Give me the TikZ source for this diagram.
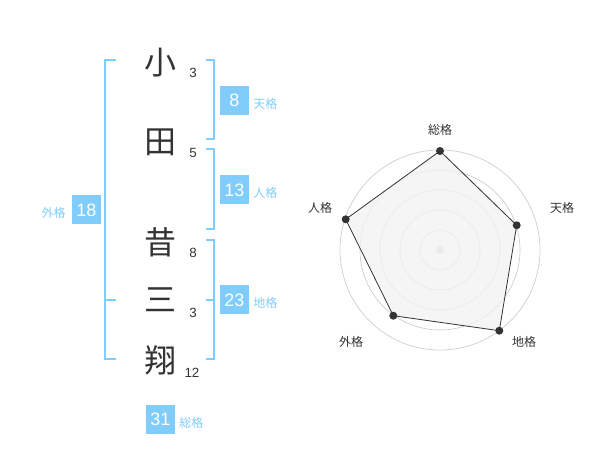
\documentclass[tikz,border=0pt]{standalone}
\usepackage{fontspec}
\setmainfont{Liberation Sans}
\newfontfamily\jp{Noto Sans CJK JP}
\definecolor{kakublue}{RGB}{128,204,250}
\definecolor{inkgray}{RGB}{51,51,51}

\begin{document}
\begin{tikzpicture}[x=0.75pt,y=-0.75pt,
  kanji/.style={font=\jp\fontsize{24}{24}\selectfont, text=inkgray, inner sep=0pt},
  strokes/.style={font=\fontsize{10}{10}\selectfont, text=inkgray, inner sep=0pt},
  kakubox/.style={fill=kakublue, text=white, minimum size=21.75pt, inner sep=0pt, font=\fontsize{13.5}{13.5}\selectfont},
  kakulabel/.style={font=\jp\fontsize{9}{9}\selectfont, text=kakublue, inner sep=0pt},
  bracket/.style={draw=kakublue, line width=1.5pt},
  ring/.style={draw=gray!40, line width=0.5pt},
  axislabel/.style={font=\jp\fontsize{9}{9}\selectfont, text=inkgray, inner sep=0pt},
  vertex/.style={circle, fill=inkgray, minimum size=6pt, inner sep=0pt}]
\useasboundingbox (0,0) rectangle (600,470);

% name
\node[kanji] (sho) at (160,63) {小};
\node[kanji] (ta) at (160,142) {田};
\node[kanji] (seki) at (160,242) {昔};
\node[kanji] (mi) at (160,300) {三};
\node[kanji] (kake) at (160,360) {翔};

\node[strokes] (n1) at (193,73) {3};
\node[strokes] (n2) at (193,153) {5};
\node[strokes] (n3) at (193,253) {8};
\node[strokes] (n4) at (193,313) {3};
\node[strokes] (n5) at (192,373) {12};

% brackets
\draw[bracket] (116,60) -- (105,60) -- (105,359) -- (116,359);
\draw[bracket] (105,300) -- (116,300);
\draw[bracket] (206,60) -- (214,60) -- (214,139) -- (206,139);
\draw[bracket] (206,149) -- (214,149) -- (214,229) -- (206,229);
\draw[bracket] (206,240) -- (214,240) -- (214,359) -- (206,359);
\draw[bracket] (214,300) -- (206,300);

% totals
\node[kakubox] (ten) at (234.5,100.5) {8};
\node[kakulabel,anchor=west] (tenl) at (253,104) {天格};
\node[kakubox] (jin) at (234.5,190) {13};
\node[kakulabel,anchor=west] (jinl) at (253,193) {人格};
\node[kakubox] (chi) at (234.5,300) {23};
\node[kakulabel,anchor=west] (chil) at (253,303) {地格};
\node[kakubox] (gai) at (86.5,210) {18};
\node[kakulabel,anchor=east] (gail) at (66,213) {外格};
\node[kakubox] (so) at (160.5,419.5) {31};
\node[kakulabel,anchor=west] (sol) at (179,423) {総格};

% radar
\foreach \r in {20,40,60,80,100}
  \draw[ring] (440,250) circle[radius=\r];
\fill[gray!40] (440,250) circle[radius=4];

\coordinate (pso) at (440,151);
\coordinate (pten) at (516.7,225.3);
\coordinate (pchi) at (499.3,330.7);
\coordinate (pgai) at (393.3,315.7);
\coordinate (pjin) at (345.7,219.3);
\filldraw[fill=gray!10, fill opacity=0.8, draw=inkgray, line width=0.6pt]
  (pso) -- (pten) -- (pchi) -- (pgai) -- (pjin) -- cycle;
\foreach \p in {pso,pten,pchi,pgai,pjin}
  \node[vertex] at (\p) {};

\node[axislabel] (lso) at (440,130) {総格};
\node[axislabel] (lten) at (562,208) {天格};
\node[axislabel] (lchi) at (524,342) {地格};
\node[axislabel] (lgai) at (351,342) {外格};
\node[axislabel] (ljin) at (320,208) {人格};
\end{tikzpicture}
\end{document}
